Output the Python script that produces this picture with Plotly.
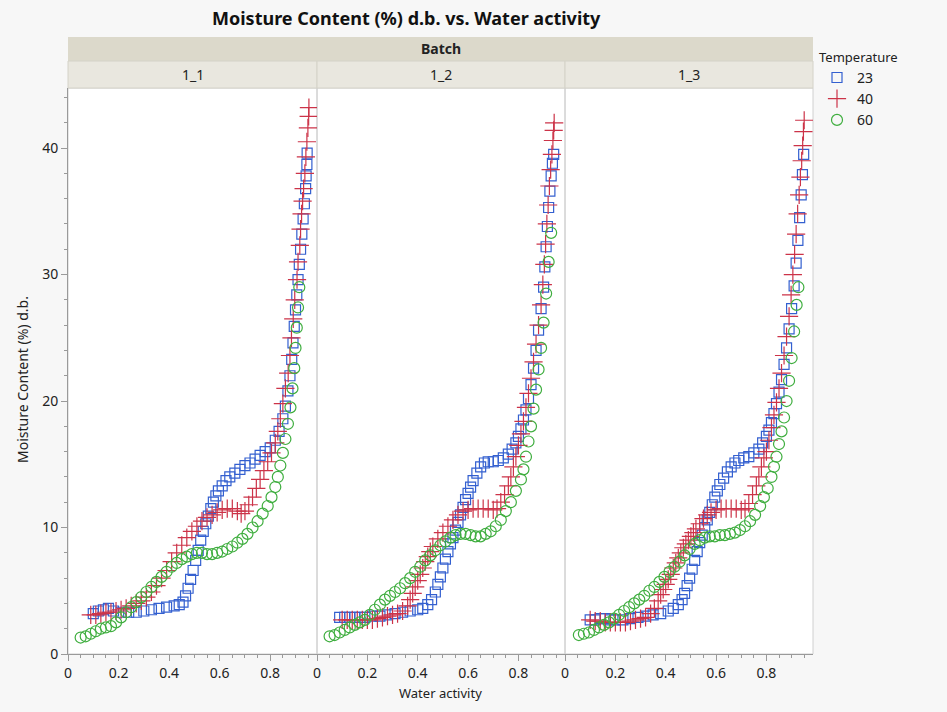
import plotly.graph_objects as go

# ---------------- data ----------------
batches = ["1_1", "1_2", "1_3"]
temperatures = ["23", "40", "60"]

# Batch 1_1
aw_11_23 = [0.10,0.12,0.14,0.16,0.18,0.21,0.24,0.27,0.30,0.33,0.36,0.39,0.42,0.44,0.455,0.465,0.475,0.485,0.495,0.505,0.515,0.525,0.535,0.545,0.555,0.565,0.575,0.585,0.595,0.61,0.625,0.64,0.66,0.68,0.70,0.72,0.74,0.76,0.78,0.80,0.82,0.835,0.85,0.86,0.87,0.878,0.885,0.89,0.895,0.90,0.905,0.91,0.915,0.92,0.925,0.93,0.935,0.94,0.942,0.945,0.946]
mc_11_23 = [3.2,3.4,3.5,3.6,3.4,3.3,3.3,3.3,3.4,3.5,3.6,3.7,3.8,3.9,4.1,4.6,5.2,5.9,6.6,7.4,8.2,9.0,9.7,10.3,10.9,11.5,12.0,12.5,12.9,13.3,13.7,14.0,14.3,14.6,14.9,15.1,15.4,15.7,16.0,16.3,16.9,17.6,18.6,19.6,20.8,22.0,23.3,24.6,25.9,27.2,28.4,29.6,30.8,32.0,33.2,34.4,35.6,36.8,37.8,38.7,39.6]
aw_11_40 = [0.09,0.11,0.13,0.15,0.17,0.19,0.21,0.23,0.25,0.27,0.29,0.31,0.33,0.35,0.37,0.39,0.41,0.43,0.45,0.47,0.49,0.51,0.53,0.55,0.57,0.59,0.61,0.63,0.65,0.67,0.685,0.70,0.715,0.73,0.745,0.76,0.775,0.79,0.805,0.82,0.83,0.84,0.85,0.86,0.871,0.878,0.884,0.891,0.897,0.906,0.910,0.917,0.920,0.924,0.928,0.932,0.937,0.941,0.945,0.949,0.952,0.953]
mc_11_40 = [3.1,3.1,3.2,3.3,3.3,3.4,3.5,3.6,3.8,4.0,4.2,4.5,4.9,5.4,6.0,6.6,7.3,8.0,8.6,9.2,9.7,10.1,10.5,10.8,11.0,11.2,11.4,11.5,11.5,11.3,11.1,11.3,11.8,12.4,13.1,13.8,14.5,15.2,15.9,16.7,17.6,18.6,19.8,21.0,22.2,23.6,25.0,26.5,28.0,29.6,31.0,32.3,33.6,34.8,35.8,36.8,38.0,39.3,40.5,41.6,42.5,43.2]
aw_11_60 = [0.05,0.07,0.09,0.11,0.13,0.15,0.17,0.19,0.21,0.23,0.25,0.27,0.29,0.31,0.33,0.35,0.37,0.39,0.41,0.43,0.45,0.47,0.49,0.51,0.53,0.55,0.57,0.59,0.61,0.63,0.65,0.67,0.69,0.71,0.73,0.75,0.77,0.79,0.805,0.82,0.83,0.84,0.85,0.86,0.87,0.88,0.888,0.895,0.90,0.905,0.91,0.915]
mc_11_60 = [1.3,1.4,1.6,1.8,2.0,2.1,2.2,2.5,2.9,3.3,3.7,4.1,4.5,4.9,5.3,5.7,6.1,6.5,6.9,7.2,7.5,7.7,7.9,8.0,8.0,7.9,7.9,8.0,8.1,8.3,8.5,8.8,9.1,9.5,10.0,10.5,11.1,11.7,12.4,13.2,14.0,14.9,15.9,17.0,18.2,19.5,21.0,22.6,24.2,25.8,27.4,29.0]

# Batch 1_2
aw_12_23 = [0.09,0.11,0.13,0.15,0.17,0.19,0.22,0.25,0.28,0.31,0.34,0.37,0.40,0.42,0.44,0.455,0.47,0.48,0.49,0.50,0.51,0.52,0.53,0.54,0.55,0.56,0.57,0.58,0.59,0.60,0.61,0.62,0.635,0.65,0.665,0.68,0.70,0.72,0.74,0.76,0.775,0.79,0.80,0.81,0.82,0.83,0.84,0.85,0.86,0.87,0.88,0.89,0.90,0.905,0.91,0.915,0.92,0.925,0.93,0.935,0.94]
mc_12_23 = [2.9,2.9,2.9,2.9,2.9,2.9,3.0,3.0,3.1,3.2,3.3,3.4,3.5,3.6,3.9,4.3,4.9,5.5,6.1,6.8,7.5,8.1,8.7,9.2,9.8,10.4,11.0,11.6,12.2,12.7,13.2,13.7,14.3,14.8,15.1,15.2,15.2,15.3,15.5,15.8,16.2,16.7,17.2,17.8,18.5,19.3,20.2,21.3,22.6,24.0,25.6,27.3,29.0,30.6,32.2,33.8,35.3,36.6,37.8,38.8,39.5]
aw_12_40 = [0.10,0.12,0.14,0.16,0.18,0.20,0.22,0.24,0.26,0.28,0.30,0.32,0.34,0.36,0.37,0.38,0.39,0.40,0.41,0.42,0.43,0.44,0.45,0.46,0.48,0.50,0.52,0.54,0.56,0.58,0.60,0.62,0.64,0.66,0.68,0.70,0.715,0.73,0.745,0.76,0.77,0.78,0.79,0.80,0.81,0.82,0.83,0.84,0.85,0.86,0.87,0.88,0.89,0.897,0.903,0.908,0.913,0.918,0.923,0.928,0.933,0.937,0.94,0.942]
mc_12_40 = [2.7,2.7,2.7,2.7,2.7,2.7,2.7,2.8,2.9,3.0,3.1,3.2,3.4,3.8,4.3,4.8,5.3,5.8,6.3,6.8,7.3,7.7,8.1,8.5,9.1,9.6,10.1,10.6,11.0,11.3,11.4,11.5,11.5,11.5,11.5,11.4,11.5,12.0,12.6,13.3,14.0,14.8,15.6,16.5,17.4,18.4,19.5,20.6,21.8,23.1,24.5,26.0,27.6,29.2,30.8,32.4,34.0,35.5,37.0,38.3,39.5,40.6,41.4,42.0]
aw_12_60 = [0.05,0.07,0.09,0.11,0.13,0.15,0.17,0.19,0.21,0.23,0.25,0.27,0.29,0.31,0.33,0.35,0.37,0.39,0.41,0.43,0.45,0.47,0.49,0.51,0.53,0.55,0.57,0.59,0.61,0.63,0.65,0.67,0.69,0.71,0.73,0.75,0.77,0.79,0.81,0.82,0.83,0.84,0.85,0.86,0.87,0.88,0.89,0.90,0.91,0.92,0.93]
mc_12_60 = [1.4,1.5,1.7,1.9,2.1,2.3,2.5,2.7,3.1,3.5,3.9,4.3,4.6,4.9,5.2,5.6,6.0,6.5,6.9,7.4,7.8,8.2,8.6,8.9,9.2,9.4,9.5,9.5,9.4,9.3,9.3,9.5,9.7,10.1,10.6,11.3,12.0,12.9,13.8,14.6,15.6,16.8,18.0,19.4,20.9,22.5,24.2,26.2,28.5,31.0,33.3]

# Batch 1_3
aw_13_23 = [0.10,0.12,0.14,0.16,0.18,0.20,0.23,0.26,0.29,0.32,0.35,0.38,0.41,0.43,0.45,0.465,0.475,0.485,0.495,0.505,0.515,0.525,0.535,0.545,0.555,0.565,0.575,0.585,0.595,0.605,0.615,0.63,0.645,0.66,0.675,0.69,0.71,0.73,0.75,0.77,0.785,0.80,0.81,0.82,0.83,0.84,0.85,0.86,0.87,0.88,0.89,0.90,0.91,0.918,0.925,0.932,0.938,0.943,0.948]
mc_13_23 = [2.7,2.7,2.8,2.8,2.7,2.7,2.7,2.8,2.9,3.0,3.1,3.2,3.4,3.6,3.9,4.3,4.8,5.4,6.0,6.7,7.4,8.1,8.8,9.4,10.0,10.6,11.2,11.8,12.4,12.9,13.4,13.9,14.4,14.8,15.1,15.3,15.5,15.6,15.9,16.2,16.7,17.2,17.7,18.3,19.0,19.8,20.7,21.7,22.9,24.2,25.7,27.3,29.1,30.9,32.7,34.5,36.3,37.9,39.5]
aw_13_40 = [0.10,0.12,0.14,0.16,0.18,0.20,0.22,0.24,0.26,0.28,0.30,0.32,0.34,0.355,0.37,0.38,0.39,0.40,0.41,0.42,0.43,0.44,0.45,0.46,0.47,0.48,0.49,0.50,0.51,0.52,0.535,0.55,0.565,0.58,0.60,0.62,0.64,0.66,0.68,0.70,0.715,0.73,0.745,0.76,0.77,0.78,0.79,0.80,0.81,0.82,0.83,0.84,0.85,0.86,0.87,0.88,0.89,0.898,0.905,0.912,0.918,0.924,0.93,0.935,0.94,0.944,0.947,0.95]
mc_13_40 = [2.7,2.6,2.6,2.5,2.5,2.5,2.5,2.5,2.6,2.7,2.8,2.9,3.2,3.6,4.2,4.7,5.1,5.5,5.9,6.3,6.8,7.2,7.6,8.0,8.4,8.7,9.0,9.3,9.6,9.9,10.3,10.7,11.0,11.2,11.4,11.5,11.5,11.5,11.5,11.4,11.5,11.9,12.6,13.3,14.0,14.8,15.5,16.0,16.9,17.9,18.9,19.9,21.0,22.2,23.6,25.1,26.7,28.4,30.0,31.6,33.2,34.8,36.3,37.7,39.0,40.2,41.3,42.2]
aw_13_60 = [0.055,0.075,0.095,0.115,0.135,0.155,0.175,0.195,0.215,0.235,0.255,0.275,0.295,0.315,0.335,0.355,0.375,0.395,0.415,0.435,0.455,0.475,0.495,0.515,0.535,0.555,0.575,0.595,0.615,0.635,0.655,0.675,0.695,0.715,0.735,0.755,0.775,0.79,0.805,0.82,0.83,0.84,0.85,0.86,0.87,0.88,0.89,0.90,0.91,0.92,0.927]
mc_13_60 = [1.5,1.6,1.7,1.9,2.1,2.3,2.5,2.8,3.1,3.4,3.7,4.0,4.3,4.6,5.0,5.3,5.7,6.1,6.5,6.9,7.3,7.8,8.3,8.7,9.0,9.2,9.3,9.3,9.4,9.4,9.5,9.6,9.8,10.1,10.5,11.0,11.7,12.4,13.1,14.0,14.8,15.6,16.6,17.6,18.7,20.0,21.6,23.4,25.5,27.6,29.0]

series = {
    ("1_1", "23"): (aw_11_23, mc_11_23), ("1_1", "40"): (aw_11_40, mc_11_40), ("1_1", "60"): (aw_11_60, mc_11_60),
    ("1_2", "23"): (aw_12_23, mc_12_23), ("1_2", "40"): (aw_12_40, mc_12_40), ("1_2", "60"): (aw_12_60, mc_12_60),
    ("1_3", "23"): (aw_13_23, mc_13_23), ("1_3", "40"): (aw_13_40, mc_13_40), ("1_3", "60"): (aw_13_60, mc_13_60),
}

x_ticks = [0, 0.2, 0.4, 0.6, 0.8]
y_ticks = [0, 10, 20, 30, 40]

# ---------------- styling ----------------
W, H = 947, 712
L, R, T, B = 68, 134, 88, 58
pw, ph = W - L - R, H - T - B

def px_x(p):
    return (p - L) / pw

def px_y(p):
    return (H - B - p) / ph

edges = [68, 317, 565, 813]
domains = [[px_x(edges[i]), px_x(edges[i + 1])] for i in range(3)]

styles = {
    "23": dict(symbol="square-open", color="#3460d0", size=10),
    "40": dict(symbol="cross-thin-open", color="#cc3348", size=13),
    "60": dict(symbol="circle-open", color="#3fae3f", size=11),
}

FONT = "Noto Sans"
fig = go.Figure()

for bi, b in enumerate(batches):
    xa = "x" if bi == 0 else f"x{bi + 1}"
    ya = "y" if bi == 0 else f"y{bi + 1}"
    for t in temperatures:
        aw, mc = series[(b, t)]
        st = styles[t]
        fig.add_trace(go.Scatter(
            x=aw, y=mc, mode="markers", xaxis=xa, yaxis=ya,
            name=t, legendgroup=t, showlegend=(bi == 0),
            marker=dict(symbol=st["symbol"], size=st["size"], color=st["color"],
                        line=dict(width=1.2, color=st["color"])),
        ))

axis_common = dict(showgrid=False, zeroline=False, showline=True, linecolor="#9a9a9a",
                   linewidth=1, ticks="outside", tickcolor="#9a9a9a", ticklen=6,
                   tickfont=dict(family=FONT, size=14, color="#222"))

layout = dict(
    width=W, height=H,
    margin=dict(l=L, r=R, t=T, b=B),
    paper_bgcolor="#f7f7f7", plot_bgcolor="#ffffff",
    showlegend=True,
    legend=dict(title=dict(text="Temperature", font=dict(family=FONT, size=13, color="#222")),
                font=dict(family=FONT, size=14, color="#222"),
                x=px_x(817), y=px_y(45), xanchor="left", yanchor="top",
                bgcolor="rgba(0,0,0,0)", tracegroupgap=0),
)
for bi in range(3):
    xk = "xaxis" if bi == 0 else f"xaxis{bi + 1}"
    yk = "yaxis" if bi == 0 else f"yaxis{bi + 1}"
    layout[xk] = dict(axis_common, domain=domains[bi], range=[0, 0.985],
                      tickvals=x_ticks, ticktext=[f"{v:g}" for v in x_ticks],
                      minor=dict(dtick=0.05, tick0=0, ticks="outside", ticklen=3, tickcolor="#9a9a9a"),
                      anchor="y" if bi == 0 else f"y{bi + 1}")
    ydef = dict(axis_common, domain=[0, 1], range=[0, 44.75],
                tickvals=y_ticks,
                minor=dict(dtick=2, tick0=0, ticks="outside", ticklen=3, tickcolor="#9a9a9a"),
                anchor="x" if bi == 0 else f"x{bi + 1}")
    if bi > 0:
        ydef.update(showticklabels=False, ticks="", showline=False,
                    minor=dict(ticks=""), matches="y")
    layout[yk] = ydef

fig.update_layout(**layout)

shapes = []
# panel frames
for i in range(3):
    shapes.append(dict(type="rect", xref="paper", yref="paper",
                       x0=domains[i][0], x1=domains[i][1], y0=0, y1=1,
                       line=dict(color="#d0d0d0", width=1), layer="below"))
# Batch strip
shapes.append(dict(type="rect", xref="paper", yref="paper", x0=0, x1=1,
                   y0=px_y(61), y1=px_y(37), fillcolor="#dcd9cb", line=dict(width=0)))
# sub strips
for i in range(3):
    shapes.append(dict(type="rect", xref="paper", yref="paper",
                       x0=domains[i][0], x1=domains[i][1], y0=1, y1=px_y(61),
                       fillcolor="#e9e7df", line=dict(color="#d4d2c8", width=1)))
fig.update_layout(shapes=shapes)

annotations = [
    dict(text="<b>Moisture Content (%) d.b. vs. Water activity</b>", xref="paper", yref="paper",
         x=px_x(406), y=px_y(18), showarrow=False, xanchor="center", yanchor="middle",
         font=dict(family=FONT, size=18, color="#111")),
    dict(text="<b>Batch</b>", xref="paper", yref="paper", x=0.5, y=px_y(49),
         showarrow=False, xanchor="center", yanchor="middle",
         font=dict(family=FONT, size=14, color="#222")),
    dict(text="Water activity", xref="paper", yref="paper", x=px_x(440), y=px_y(693),
         showarrow=False, xanchor="center", yanchor="middle",
         font=dict(family=FONT, size=13, color="#222")),
    dict(text="Moisture Content (%) d.b.", xref="paper", yref="paper", x=px_x(22), y=px_y(380),
         showarrow=False, xanchor="center", yanchor="middle", textangle=-90,
         font=dict(family=FONT, size=14, color="#222")),
]
for i, b in enumerate(batches):
    annotations.append(dict(text=b, xref="paper", yref="paper",
                            x=(domains[i][0] + domains[i][1]) / 2, y=px_y(74.5),
                            showarrow=False, xanchor="center", yanchor="middle",
                            font=dict(family=FONT, size=14, color="#222")))
fig.update_layout(annotations=annotations)

fig.write_html("out.html")
